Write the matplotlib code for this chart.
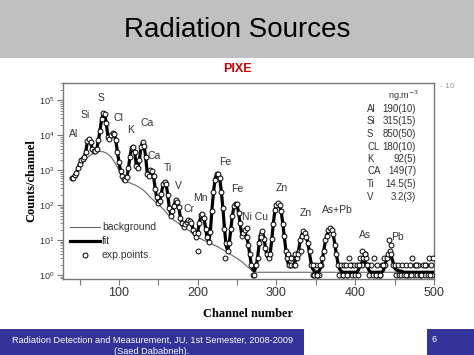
import numpy as np
import matplotlib
matplotlib.use("Agg")
import matplotlib.pyplot as plt
from matplotlib.patches import Rectangle
from matplotlib.ticker import MultipleLocator, FuncFormatter, LogLocator

plt.rcParams['font.family'] = ['Liberation Sans', 'DejaVu Sans']

# channel grid of the spectrum (every 2nd channel)
channels = np.arange(40, 500, 2)

fit_counts = [
    580, 620, 700, 850, 1100, 1500, 1900, 2100, 2300, 3500,
    6500, 8000, 6000, 4200, 3600, 3500, 4200, 7000, 14000, 28000,
    42000, 40000, 22000, 9000, 7500, 9500, 11500, 11000, 7000, 3500,
    1700, 950, 700, 560, 540, 620, 1100, 2400, 4200, 4800,
    3300, 1400, 1100, 2000, 4500, 6300, 5000, 2300, 800, 650,
    950, 1000, 650, 300, 160, 120, 130, 220, 380, 470,
    380, 200, 80, 52, 62, 100, 135, 130, 85, 45,
    30, 25, 27, 33, 37, 37, 30, 21, 15, 13,
    17, 30, 50, 57, 42, 22, 11, 9.5, 16, 70,
    230, 550, 780, 800, 560, 250, 80, 22, 7, 5,
    8, 20, 50, 90, 112, 100, 60, 28, 14, 15,
    16, 13, 8, 4, 2, 1.4, 1.3, 1.7, 3, 8,
    15, 17, 12, 6, 3.5, 3, 4, 10, 30, 70,
    105, 112, 100, 65, 30, 12, 5, 2.5, 1.8, 1.7,
    1.8, 2, 2.5, 3.5, 5, 9, 14, 17, 17, 13,
    8, 4, 2.2, 1.5, 1.3, 1.2, 1.2, 1.3, 1.6, 2.5,
    5, 9, 14, 18, 21, 20, 14, 8, 4, 2.2,
    1.5, 1.3, 1.2, 1.2, 1.2, 1.2, 1.2, 1.2, 1.2, 1.2,
    1.2, 1.2, 1.4, 1.8, 2.2, 2.5, 2.5, 2.1, 1.6, 1.3,
    1.2, 1.2, 1.2, 1.2, 1.2, 1.2, 1.2, 1.2, 1.4, 2.0,
    3, 3.8, 4, 3.3, 2.3, 1.6, 1.4, 1.35, 1.3, 1.3,
    1.25, 1.2, 1.2, 1.2, 1.2, 1.2, 1.2, 1.2, 1.2, 1.2,
    1.2, 1.2, 1.2, 1.2, 1.2, 1.2, 1.2, 1.2, 1.2, 1.2,
]

exp_counts = [
    580, 600, 720, 830, 1150, 1450, 2000, 2050, 2400, 3300,
    6800, 7800, 6200, 4000, 3500, 3600, 4100, 7400, 13500, 29000,
    44000, 39000, 23000, 8800, 7800, 9800, 11700, 10500, 7200, 3400,
    1750, 920, 690, 560, 530, 640, 1150, 2300, 4300, 4700,
    3400, 1350, 1150, 1900, 4600, 6500, 4800, 2400, 780, 680,
    980, 960, 680, 290, 165, 115, 135, 210, 390, 460,
    390, 190, 84, 50, 66, 96, 140, 126, 88, 44,
    31, 24, 28, 32, 38, 36, 31, 20, 16, 12,
    16, 31, 52, 55, 44, 21, 12, 9, 17, 66,
    240, 530, 800, 790, 580, 240, 85, 21, 8, 5,
    8, 21, 48, 92, 110, 104, 58, 30, 13, 16,
    20, 12, 7, 4, 2, 1, 1, 2, 3, 8,
    14, 18, 11, 6, 4, 3, 4, 11, 28, 72,
    100, 116, 98, 68, 29, 13, 5, 3, 2, 2,
    3, 2, 4, 3, 5, 10, 13, 18, 16, 12,
    8, 5, 2, 1, 1, 2, 1, 1, 2, 3,
    5, 10, 13, 19, 22, 19, 15, 7, 4, 2,
    1, 2, 1, 2, 2, 1, 3, 2, 1, 2,
    1, 2, 1, 3, 2, 3, 4, 3, 2, 1,
    2, 1, 3, 1, 2, 1, 1, 2, 3, 2,
    3, 4, 5, 4, 2, 2, 1, 2, 1, 1,
    2, 1, 2, 1, 1, 2, 3, 1, 2, 1,
    2, 1, 1, 2, 1, 2, 1, 3, 2, 1,
]

# extra measured points between the grid channels
extra_channels = [201, 235, 263, 281, 315, 319, 323, 327, 331, 347, 351, 355,
                  385, 389, 393, 405, 409, 413, 415, 427, 431, 435, 443, 445,
                  465, 471, 477, 483, 489, 495, 499]
extra_counts = [5, 3, 22, 12, 4, 3, 2, 4, 5, 2, 1, 2,
                1, 1, 2, 2, 5, 4, 2, 1, 1, 2, 10, 7,
                1, 1, 2, 1, 2, 1, 3]

bg_channels = [40, 45, 50, 55, 60, 65, 70, 75, 80, 85,
               90, 95, 100, 105, 108, 110, 115, 120, 125, 130,
               135, 140, 145, 150, 155, 160, 165, 170, 175, 180,
               185, 190, 195, 200, 205, 210, 215, 220, 225, 230,
               235, 240, 245, 250, 255, 260, 265, 270, 275, 500]
bg_counts = [560, 800, 1200, 1700, 2300, 2800, 3200, 3400, 3350, 3000,
             2400, 1600, 1000, 580, 500, 470, 420, 380, 330, 280,
             220, 165, 130, 105, 82, 62, 46, 37, 31, 25,
             21, 18, 14, 12, 10.5, 9.3, 8.3, 7.4, 6.5, 5.6,
             4.8, 4.1, 3.5, 3.0, 2.5, 2.0, 1.6, 1.3, 1.2, 1.2]

# element labels: (text, channel, counts)
peak_labels = [("Al", 43, 1.07e4), ("Si", 57, 3.7e4), ("S", 77, 1.14e5),
               ("Cl", 99, 3.1e4), ("K", 115, 1.4e4), ("Ca", 136, 2.3e4),
               ("Ca", 145, 2500), ("Ti", 162, 1140), ("V", 175, 350),
               ("Cr", 189, 77), ("Mn", 203, 158), ("Fe", 235, 1700),
               ("Fe", 250, 288), ("Ni Cu", 273, 45), ("Zn", 306, 308),
               ("Zn", 337, 59), ("As+Pb", 377, 72), ("As", 412, 14),
               ("Pb", 454, 12)]

conc_elements = ["Al", "Si", "S", "CL", "K", "CA", "Ti", "V"]
conc_values = ["190(10)", "315(15)", "850(50)", "180(10)", "92(5)", "149(7)",
               "14.5(5)", "3.2(3)"]

W, H = 474, 355
fig = plt.figure(figsize=(W / 100, H / 100), dpi=100)
fig.patch.set_facecolor("white")

# slide decorations
fig.patches.append(Rectangle((0, 1 - 58 / H), 1, 58 / H, transform=fig.transFigure,
                             facecolor="#c0c0c0", edgecolor="none", zorder=0))
fig.patches.append(Rectangle((0, 0), 304 / W, 26 / H, transform=fig.transFigure,
                             facecolor="#333399", edgecolor="none", zorder=0))
fig.patches.append(Rectangle((427 / W, 0), 1 - 427 / W, 26 / H, transform=fig.transFigure,
                             facecolor="#333399", edgecolor="none", zorder=0))
fig.text(0.5, 1 - 30 / H, "Radiation Sources", ha="center", va="center",
         fontsize=20, color="black")
fig.text(0.5, 1 - 69 / H, "PIXE", ha="center", va="center", fontsize=9,
         fontweight="bold", color="#cc0000")
fig.text(152 / W, 1 - 340 / H, "Radiation Detection and Measurement, JU, 1st Semester, 2008-2009",
         ha="center", va="center", fontsize=6.6, color="white")
fig.text(152 / W, 1 - 351 / H, "(Saed Dababneh).", ha="center", va="center",
         fontsize=6.6, color="white")
fig.text(431 / W, 1 - 340 / H, "6", ha="left", va="center", fontsize=6.6, color="white")
fig.text(440 / W, 1 - 86 / H, "- 10", ha="left", va="center", fontsize=6, color="#999999")

ax = fig.add_axes([63 / W, 1 - 279 / H, (434 - 63) / W, (279 - 83) / H])
ax.set_yscale("log")
ax.set_xlim(29, 500)
ax.set_ylim(0.77, 3.1e5)

ax.plot(bg_channels, bg_counts, color="#666666", lw=0.8, label="background", zorder=2)
ax.plot(channels, fit_counts, color="black", lw=2.3, label="fit", zorder=3)
ax.plot(np.concatenate([channels, extra_channels]), np.concatenate([exp_counts, extra_counts]),
        ls="none", marker="o", ms=3.5, mfc="white", mec="black", mew=0.7,
        label="exp.points.", zorder=4)

for txt, cx, cy in peak_labels:
    ax.text(cx, cy, txt, ha="center", va="center", fontsize=7.5, color="#333333")

fig.text(403 / W, 1 - 96 / H, "ng.m$^{-3}$", ha="center", va="center", fontsize=6.5, color="#333333")
for i, (el, val) in enumerate(zip(conc_elements, conc_values)):
    y = 1 - (109 + i * 12.5) / H
    fig.text(367 / W, y, el, ha="left", va="center", fontsize=7, color="#333333")
    fig.text(416 / W, y, val, ha="right", va="center", fontsize=7, color="#333333")

leg = ax.legend(loc="upper left", bbox_to_anchor=(0.019, 0.29), frameon=False,
                borderaxespad=0, borderpad=0, handlelength=2.9, handletextpad=0.15,
                labelspacing=0.4, numpoints=1, fontsize=7.5)
for t in leg.get_texts():
    t.set_color("#333333")

for s in ax.spines.values():
    s.set_color("#777777")
    s.set_linewidth(1.0)

ax.xaxis.set_major_locator(MultipleLocator(50))
ax.xaxis.set_major_formatter(FuncFormatter(lambda v, p: f"{int(v)}" if v % 100 == 0 else ""))
ax.yaxis.set_major_locator(LogLocator(base=10, numticks=10))
ax.yaxis.set_minor_locator(LogLocator(base=10, subs=np.arange(2, 10), numticks=10))
ax.tick_params(axis="x", direction="out", length=4, color="#777777", labelsize=9,
               labelcolor="#333333", pad=2)
ax.tick_params(axis="y", which="major", direction="out", length=4, color="#777777",
               labelsize=6.5, labelcolor="#333333", pad=2)
ax.tick_params(axis="y", which="minor", direction="out", length=2, color="#777777")

ax.set_xlabel("Channel number", family="Liberation Serif", fontweight="bold",
              fontsize=9, labelpad=6)
ax.set_ylabel("Counts/channel", family="Liberation Serif", fontweight="bold",
              fontsize=9, labelpad=1)

fig.savefig("out.png", dpi=100)
